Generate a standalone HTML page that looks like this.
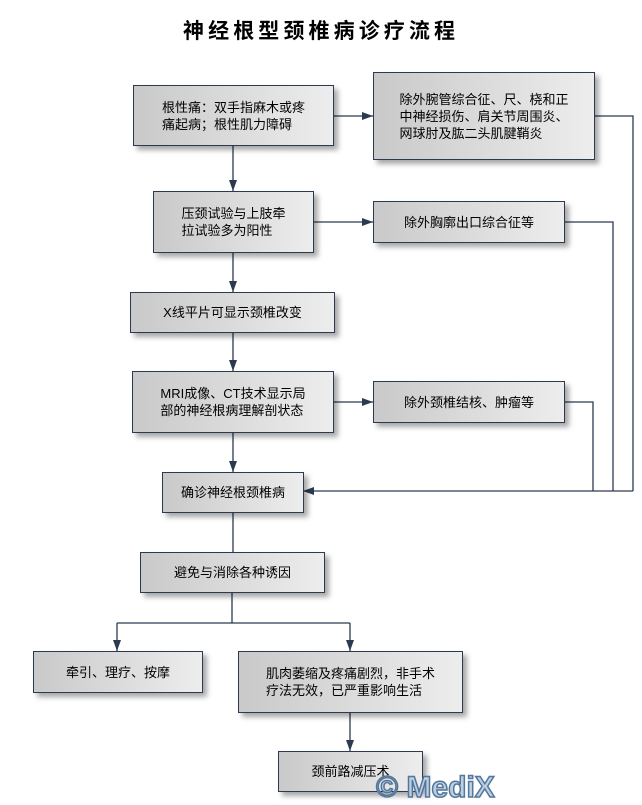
<!DOCTYPE html>
<html><head><meta charset="utf-8"><style>
html,body{margin:0;padding:0;background:#fff;}
body{width:642px;height:800px;position:relative;overflow:hidden;font-family:"Liberation Sans","Noto Sans CJK SC",sans-serif;}
.t{position:absolute;left:183px;top:20px;font-size:21px;line-height:24px;font-weight:bold;letter-spacing:4.1px;color:#000;white-space:nowrap;font-family:"Liberation Sans","Noto Sans CJK SC",sans-serif;}
.b{position:absolute;box-sizing:border-box;border:1px solid #2b3a50;background:linear-gradient(to right,#c9c9c9,#ededed);box-shadow:4px 4px 5px rgba(0,0,0,0.35);display:flex;align-items:center;justify-content:center;font-size:13px;line-height:17px;color:#000;}
.b span{display:inline-block;text-align:left;white-space:nowrap;}
svg{position:absolute;left:0;top:0;}
.wm{position:absolute;left:376px;top:771px;font-size:30px;font-weight:bold;color:#bcd0e4;-webkit-text-stroke:1.5px #54769a;white-space:nowrap;font-family:"Liberation Sans",sans-serif;letter-spacing:0px;}
</style></head><body>
<div class="t">神经根型颈椎病诊疗流程</div>

<svg width="642" height="800" viewBox="0 0 642 800">
<defs>
<marker id="a" markerWidth="12" markerHeight="8" refX="11" refY="4" orient="auto" markerUnits="userSpaceOnUse">
<path d="M0,0 L11,4 L0,8 Z" fill="#2b3a50"/>
</marker>
</defs>
<g stroke="#2b3a50" stroke-width="1.3" fill="none">
<line x1="233" y1="145" x2="233" y2="191" marker-end="url(#a)"/>
<line x1="233" y1="252" x2="233" y2="292" marker-end="url(#a)"/>
<line x1="233" y1="332" x2="233" y2="371" marker-end="url(#a)"/>
<line x1="233" y1="432" x2="233" y2="472" marker-end="url(#a)"/>
<line x1="233" y1="512" x2="233" y2="552"/>
<line x1="333" y1="116" x2="373" y2="116" marker-end="url(#a)"/>
<line x1="313" y1="222" x2="373" y2="222" marker-end="url(#a)"/>
<line x1="333" y1="402" x2="373" y2="402" marker-end="url(#a)"/>
<polyline points="594,116 633,116 633,491"/>
<polyline points="564,222 613,222 613,491"/>
<polyline points="564,402 593,402 593,491"/>
<line x1="633" y1="491" x2="303" y2="491" marker-end="url(#a)"/>
<line x1="232" y1="592" x2="232" y2="623"/>
<line x1="117" y1="623" x2="350" y2="623"/>
<line x1="117" y1="623" x2="117" y2="651" marker-end="url(#a)"/>
<line x1="350" y1="623" x2="350" y2="651" marker-end="url(#a)"/>
<line x1="350" y1="712" x2="350" y2="751" marker-end="url(#a)"/>
</g>
</svg>

<div class="b" style="left:133px;top:85px;width:201px;height:61px;"><span>根性痛：双手指麻木或疼<br>痛起病；根性肌力障碍</span></div>
<div class="b" style="left:373px;top:72px;width:222px;height:88px;"><span>除外腕管综合征、尺、桡和正<br>中神经损伤、肩关节周围炎、<br>网球肘及肱二头肌腱鞘炎</span></div>
<div class="b" style="left:153px;top:191px;width:161px;height:62px;"><span>压颈试验与上肢牵<br>拉试验多为阳性</span></div>
<div class="b" style="left:373px;top:201px;width:192px;height:42px;"><span>除外胸廓出口综合征等</span></div>
<div class="b" style="left:130px;top:292px;width:205px;height:41px;"><span>X线平片可显示颈椎改变</span></div>
<div class="b" style="left:132px;top:371px;width:202px;height:62px;"><span>MRI成像、CT技术显示局<br>部的神经根病理解剖状态</span></div>
<div class="b" style="left:373px;top:381px;width:192px;height:42px;"><span>除外颈椎结核、肿瘤等</span></div>
<div class="b" style="left:162px;top:472px;width:142px;height:41px;"><span>确诊神经根颈椎病</span></div>
<div class="b" style="left:140px;top:552px;width:185px;height:41px;"><span>避免与消除各种诱因</span></div>
<div class="b" style="left:33px;top:651px;width:170px;height:42px;"><span>牵引、理疗、按摩</span></div>
<div class="b" style="left:238px;top:651px;width:225px;height:62px;"><span>肌肉萎缩及疼痛剧烈，非手术<br>疗法无效，已严重影响生活</span></div>
<div class="b" style="left:278px;top:751px;width:145px;height:41px;"><span>颈前路减压术</span></div>

<div class="wm">© MediX</div>
</body></html>
